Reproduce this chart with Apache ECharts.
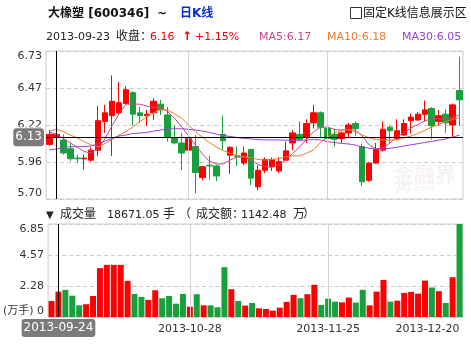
<!DOCTYPE html>
<html><head><meta charset="utf-8">
<script src="https://cdn.jsdelivr.net/npm/echarts@6/dist/echarts.min.js"></script>
<style>html,body{margin:0;padding:0;background:#fff}#c{width:471px;height:352px}</style>
</head><body><div id="c"></div>
<script>
const dates = ['2013-09-23','2013-09-24','2013-09-25','2013-09-26','2013-09-27','2013-09-30','2013-10-08','2013-10-09','2013-10-10','2013-10-11','2013-10-14','2013-10-15','2013-10-16','2013-10-17','2013-10-18','2013-10-21','2013-10-22','2013-10-23','2013-10-24','2013-10-25','2013-10-28','2013-10-29','2013-10-30','2013-10-31','2013-11-01','2013-11-04','2013-11-05','2013-11-06','2013-11-07','2013-11-08','2013-11-11','2013-11-12','2013-11-13','2013-11-14','2013-11-15','2013-11-18','2013-11-19','2013-11-20','2013-11-21','2013-11-22','2013-11-25','2013-11-26','2013-11-27','2013-11-28','2013-11-29','2013-12-02','2013-12-03','2013-12-04','2013-12-05','2013-12-06','2013-12-09','2013-12-10','2013-12-11','2013-12-12','2013-12-13','2013-12-16','2013-12-17','2013-12-18','2013-12-19','2013-12-20'];
const opens = [6.08,6.13,6.11,6.05,5.985,5.98,5.97,6.04,6.24,6.28, 6.30,6.365,6.44,6.30,6.28,6.30,6.36,6.285,6.125,6.09, 6.04,6.065,5.85,5.935,5.93,6.15,6.005,6.0,5.95,6.045, 5.785,5.90,5.925,5.895,5.97,6.09,6.15,6.13,6.23,6.30, 6.19,6.15,6.12,6.16,6.225,6.065,5.83,5.95,6.04,6.20, 6.12,6.145,6.245,6.25,6.29,6.33,6.24,6.29,6.215,6.455];
const closes = [6.15,6.15,6.02,5.98,5.98,5.985,6.04,6.245,6.30,6.38, 6.37,6.46,6.29,6.28,6.29,6.38,6.32,6.135,6.09,6.02, 6.12,5.885,5.925,5.93,5.86,6.105,6.06,5.995,6.02,5.845, 5.90,5.975,5.975,5.96,6.035,6.16,6.115,6.225,6.30,6.20, 6.12,6.115,6.16,6.215,6.19,5.82,5.95,6.045,6.185,6.175, 6.175,6.225,6.27,6.29,6.32,6.21,6.28,6.23,6.355,6.39];
const lows = [6.07,6.11,6.01,5.965,5.95,5.905,5.96,6.0,6.16,6.0, 6.29,6.36,6.215,6.23,6.21,6.25,6.285,6.10,6.08,5.90, 5.975,5.74,5.83,5.835,5.825,6.04,5.875,5.93,5.935,5.795, 5.76,5.88,5.895,5.88,5.965,6.04,6.11,6.09,6.19,6.13, 6.065,6.065,6.09,6.13,6.14,5.79,5.82,5.945,6.03,6.09, 6.11,6.14,6.155,6.245,6.24,6.115,6.21,6.16,6.13,6.21];
const highs = [6.18,6.17,6.15,6.09,6.01,6.01,6.06,6.35,6.355,6.56, 6.515,6.485,6.45,6.34,6.32,6.40,6.39,6.34,6.21,6.16, 6.155,6.145,5.93,6.0,5.94,6.28,6.065,6.065,6.065,6.05, 5.935,5.99,5.99,5.99,6.10,6.18,6.24,6.255,6.355,6.31, 6.21,6.19,6.17,6.23,6.24,6.085,5.955,6.09,6.24,6.21, 6.255,6.255,6.295,6.305,6.385,6.34,6.32,6.325,6.365,6.69];
const volumes = [1.18,1.87,2.0,1.57,0.86,0.94,1.55,3.6,3.84,3.84, 3.84,2.66,1.7,1.48,1.26,1.97,1.38,1.55,0.98,1.7, 0.76,1.68,0.86,0.86,0.72,3.67,2.05,1.18,0.84,1.03, 0.64,0.59,0.47,0.69,1.11,1.63,1.38,1.68,2.37,0.89, 1.35,1.13,1.08,1.43,1.06,2.0,0.86,1.87,2.73,1.13, 1.2,1.77,1.85,1.72,2.68,2.17,1.9,1.03,2.93,6.85];
const ma5 = [6.165,6.15,6.12,6.09,6.06,6.03,6.02,6.05,6.12,6.21, 6.29,6.36,6.36,6.36,6.347,6.338,6.337,6.308,6.262,6.203, 6.141,6.076,6.013,5.964,5.944,5.944,5.971,5.992,5.992,5.971, 5.94,5.925,5.92,5.937,5.971,6.018,6.064,6.115,6.168,6.199, 6.20,6.184,6.18,6.18,6.18,6.138,6.076,6.048,6.055,6.09, 6.132,6.161,6.194,6.218,6.243,6.259,6.257,6.257,6.264,6.288];
const ma10 = [6.173,6.184,6.17,6.145,6.125,6.099,6.076,6.064,6.086,6.115, 6.145,6.168,6.203,6.238,6.273,6.30,6.324,6.319,6.292,6.264, 6.215,6.168,6.131,6.093,6.062,6.038,6.018,6.003,5.994,5.987, 5.975,5.971,5.974,5.982,5.994,6.0,6.0,6.02,6.041,6.093, 6.131,6.159,6.177,6.184,6.17,6.145,6.125,6.114,6.111,6.111, 6.111,6.125,6.138,6.156,6.177,6.201,6.218,6.239,6.253,6.267];
const ma30 = [6.041,6.048,6.058,6.064,6.064,6.065,6.069,6.083,6.104,6.121, 6.138,6.145,6.156,6.159,6.163,6.173,6.18,6.187,6.189,6.189, 6.185,6.18,6.173,6.163,6.152,6.142,6.135,6.128,6.122,6.118, 6.114,6.112,6.111,6.111,6.109,6.109,6.109,6.111,6.113,6.111, 6.10,6.093,6.087,6.083,6.076,6.062,6.053,6.048,6.048,6.053, 6.06,6.069,6.077,6.085,6.093,6.101,6.109,6.118,6.13,6.145];
const priceTicks = ['5.70','5.96','6.22','6.47','6.73'];
const volTicks = ['(万手) 0','2.28','4.57','6.85'];
const dateLabelIdx = [20, 40, 59];
const gridDateIdx = [20, 40];
const pointerIdx = 1;
const pointerPrice = 6.13;

const UP = '#ff0000', DOWN = '#18a03c';
const C5 = '#c8468c', C10 = '#f07a28', C30 = '#9a3fd0';
const FF = '"DejaVu Sans","Noto Sans CJK SC",sans-serif';
const PMIN = 5.70, PMAX = 6.73, PINT = (PMAX - PMIN) / 4;
const VMAX = 6.85, VINT = VMAX / 3;

const kData = dates.map((d, i) => [opens[i], closes[i], lows[i], highs[i]]);
const volData = volumes.map((v, i) => ({ value: v, itemStyle: { color: closes[i] >= opens[i] ? UP : DOWN } }));
function mkLines() {
  return {
    silent: true, symbol: ['none', 'none'], animation: false,
    label: { show: false },
    lineStyle: { color: '#d4d4d4', type: 'solid', width: 1 },
    data: gridDateIdx.map(i => ({ xAxis: i }))
  };
}

function txt(x, y, text, fill, font) {
  return { type: 'text', x: x, y: y, z: 100, style: { text: text, fill: fill, font: font, verticalAlign: 'middle' } };
}
const f11 = '11px ' + FF, f12 = '12px ' + FF, b12 = 'bold 12px ' + FF;

const chart = echarts.init(document.getElementById('c'), null, { renderer: 'canvas' });
chart.setOption({
  animation: false,
  backgroundColor: '#fff',
  axisPointer: { triggerOn: 'none' },
  grid: [
    { left: 46, top: 51, width: 417, height: 148, show: true, borderColor: '#ccc', borderWidth: 1, backgroundColor: 'transparent' },
    { left: 46, top: 224, width: 417, height: 93, show: true, borderColor: '#ccc', borderWidth: 1, backgroundColor: 'transparent' }
  ],
  xAxis: [
    { type: 'category', gridIndex: 0, data: dates, boundaryGap: true,
      axisLine: { show: false }, axisTick: { show: false }, axisLabel: { show: false },
      splitLine: { show: false },
      axisPointer: { show: true, type: 'line', value: pointerIdx, status: 'show', snap: false, triggerTooltip: false,
        lineStyle: { color: '#000', width: 1, type: 'solid' }, label: { show: false } } },
    { type: 'category', gridIndex: 1, data: dates, boundaryGap: true,
      axisLine: { show: false }, axisTick: { show: false },
      axisLabel: { show: true, interval: (i) => dateLabelIdx.indexOf(i) >= 0, color: '#333', fontSize: 11, fontFamily: FF, margin: 7, alignMaxLabel: 'right', hideOverlap: false },
      splitLine: { show: false },
      axisPointer: { show: true, type: 'line', value: pointerIdx, status: 'show', snap: false, triggerTooltip: false,
        lineStyle: { color: '#000', width: 1, type: 'solid' },
        label: { show: true, margin: 2, backgroundColor: '#7b7b7b', color: '#fff', fontSize: 12, fontFamily: FF, padding: [3, 2, 3, 2], borderColor: '#fff', borderWidth: 1, shadowBlur: 0 } } }
  ],
  yAxis: [
    { type: 'value', gridIndex: 0, min: PMIN, max: PMAX, interval: PINT, scale: true,
      axisLine: { show: false }, axisTick: { show: false },
      axisLabel: { color: '#333', fontSize: 11, fontFamily: FF, margin: 4,
        verticalAlignMinLabel: 'bottom', verticalAlignMaxLabel: 'top',
        formatter: (v) => priceTicks[Math.round((v - PMIN) / PINT)] },
      splitLine: { show: true, lineStyle: { color: '#ccc', type: [4, 3] } },
      axisPointer: { show: true, type: 'line', value: pointerPrice, status: 'show', snap: false, triggerTooltip: false,
        lineStyle: { color: '#000', width: 1, type: 'solid' },
        label: { show: true, precision: 2, margin: 2, backgroundColor: '#7b7b7b', color: '#fff', fontSize: 12, fontFamily: FF, padding: [3, 2, 3, 2], borderColor: '#fff', borderWidth: 1, shadowBlur: 0 } } },
    { type: 'value', gridIndex: 1, min: 0, max: VMAX, interval: VINT,
      axisLine: { show: false }, axisTick: { show: false },
      axisLabel: { color: '#333', fontSize: 11, fontFamily: FF, margin: 4,
        verticalAlignMinLabel: 'bottom', verticalAlignMaxLabel: 'top',
        formatter: (v) => volTicks[Math.round(v / VINT)] },
      splitLine: { show: true, lineStyle: { color: '#ccc', type: [4, 3] } } }
  ],
  graphic: { elements: [
    txt(48, 14, '大橡塑 [600346]', '#111', b12),
    txt(157, 14, '~', '#111', b12),
    txt(180, 14, '日K线', '#0a2fd0', b12),
    { type: 'rect', z: 100, shape: { x: 350.5, y: 7.5, width: 11, height: 11 }, style: { fill: '#fff', stroke: '#333', lineWidth: 1 } },
    txt(363, 14, '固定K线信息展示区', '#111', f12),
    txt(46, 37, '2013-09-23', '#222', f11),
    txt(116, 37, '收盘：', '#222', f12),
    txt(150, 37, '6.16', '#e60000', f11),
    txt(182, 37, '↑', '#e60000', 'bold 12px ' + FF),
    txt(195, 37, '+1.15%', '#e60000', f11),
    txt(259, 37, 'MA5:6.17', C5, f11),
    txt(327, 37, 'MA10:6.18', C10, f11),
    txt(402, 37, 'MA30:6.05', C30, f11),
    txt(46, 215, '▼', '#222', '10px ' + FF),
    txt(60, 215, '成交量', '#222', f12),
    txt(107, 215, '18671.05', '#222', f11),
    txt(163, 215, '手', '#222', f12),
    txt(179, 215, '（', '#222', f12),
    txt(196, 215, '成交额：', '#222', f12),
    txt(241, 215, '1142.48', '#222', f11),
    txt(293, 215, '万', '#222', f12),
    txt(303, 215, '）', '#222', f12),
    { type: 'text', x: 393, y: 174, z: 1, style: { text: '金融界', fill: 'rgba(200,175,175,0.16)', font: 'bold 21px "Noto Sans CJK SC",sans-serif', verticalAlign: 'middle' } },
    { type: 'text', x: 397, y: 189, z: 1, style: { text: 'JRJ.com', fill: 'rgba(200,175,175,0.16)', font: 'italic bold 9px ' + FF, verticalAlign: 'middle' } }
  ] },
  series: [
    { type: 'candlestick', xAxisIndex: 0, yAxisIndex: 0, data: kData, barWidth: 6,
      itemStyle: { color: UP, color0: DOWN, borderColor: UP, borderColor0: DOWN, borderWidth: 1 },
      markLine: mkLines() },
    { type: 'line', xAxisIndex: 0, yAxisIndex: 0, data: ma5, showSymbol: false, symbol: 'none', lineStyle: { color: C5, width: 1 }, z: 3 },
    { type: 'line', xAxisIndex: 0, yAxisIndex: 0, data: ma10, showSymbol: false, symbol: 'none', lineStyle: { color: C10, width: 1 }, z: 3 },
    { type: 'line', xAxisIndex: 0, yAxisIndex: 0, data: ma30, showSymbol: false, symbol: 'none', lineStyle: { color: C30, width: 1 }, z: 3 },
    { type: 'bar', xAxisIndex: 1, yAxisIndex: 1, data: volData, barWidth: 6, markLine: mkLines() }
  ]
});
</script></body></html>
